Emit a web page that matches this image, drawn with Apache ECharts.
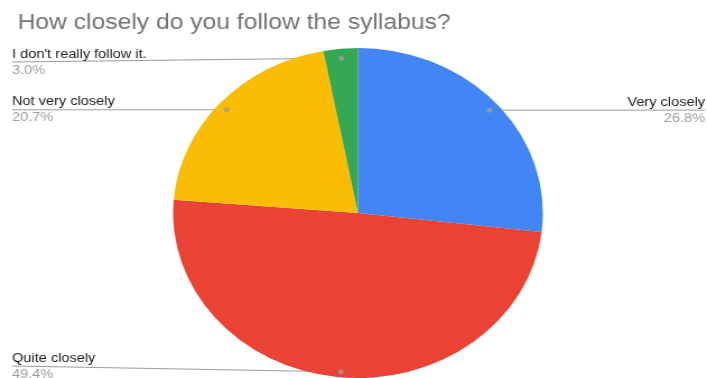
<!DOCTYPE html>
<html>
<head>
<meta charset="utf-8">
<script src="https://cdn.jsdelivr.net/npm/echarts@6/dist/echarts.min.js"></script>
<style>
  html, body { margin: 0; padding: 0; background: #fff; overflow: hidden; }
  #wrap { width: 707px; height: 378px; overflow: hidden; }
  /* the chart is laid out narrower and widened, giving the oval pie */
  #chart { width: 631px; height: 378px; transform: scaleX(1.1204); transform-origin: 0 0; }
</style>
</head>
<body>
<div id="wrap"><div id="chart"></div></div>
<script>
const titleText = 'How closely do you follow the syllabus?';
const categories = ['Very closely', 'Quite closely', 'Not very closely', "I don't really follow it."];
const shares = [26.8, 49.4, 20.7, 3.0];
const sliceColors = ['#4285F4', '#EA4335', '#FBBC04', '#34A853'];

const CX = 319.5, CY = 213, R = 165;
const DOT_FRAC = 0.955;
const DOT_SHIFT = 2;
const EDGE_L = 10.7, EDGE_R = 629.3;
const LABEL_TOP = 62, LABEL_BOTTOM = 366;
const total = shares.reduce((a, b) => a + b, 0);

// mid-angle position of each slice, in the same units as the shares
const mids = [];
let acc = 0;
shares.forEach(v => { mids.push(acc + v / 2); acc += v; });

const chart = echarts.init(document.getElementById('chart'), null, { renderer: 'canvas' });

chart.setOption({
  animation: false,
  backgroundColor: '#ffffff',
  title: {
    text: titleText,
    left: 10.7,
    top: 7,
    textStyle: { fontFamily: 'Liberation Sans, Arial, sans-serif', fontSize: 22, fontWeight: 'normal', color: '#757575' }
  },
  polar: { center: [CX, CY], radius: R },
  angleAxis: { type: 'value', min: 0, max: total, startAngle: 90, clockwise: true, show: false },
  radiusAxis: { type: 'value', min: 0, max: 1, show: false },
  series: [
    {
      type: 'pie',
      center: [CX, CY],
      radius: R,
      startAngle: 90,
      clockwise: true,
      data: categories.map((name, i) => ({ name, value: shares[i], itemStyle: { color: sliceColors[i] } })),
      itemStyle: { borderWidth: 0 },
      label: {
        show: true,
        position: 'outside',
        formatter: p => '{n|' + p.name + '}\n{p|' + p.value.toFixed(1) + '%}',
        rich: {
          n: { fontFamily: 'Liberation Sans, Arial, sans-serif', fontSize: 13, color: '#222222', lineHeight: 16 },
          p: { fontFamily: 'Liberation Sans, Arial, sans-serif', fontSize: 13, color: '#9e9e9e', lineHeight: 16 }
        }
      },
      labelLine: { show: true, length: 10, length2: 10, lineStyle: { color: '#9e9e9e', width: 1 } },
      labelLayout: function (params) {
        const pts = params.labelLinePoints;
        if (!pts) return {};
        const p0 = pts[0];
        const dx = CX + (p0[0] - CX) * DOT_FRAC;
        const dy = CY + (p0[1] - CY) * DOT_FRAC + DOT_SHIFT;
        const left = dx < CX;
        const ly = Math.min(LABEL_BOTTOM, Math.max(LABEL_TOP, dy));
        const ex = left ? EDGE_L : EDGE_R;
        return {
          x: ex,
          y: ly,
          align: left ? 'left' : 'right',
          verticalAlign: 'middle',
          labelLinePoints: [[dx, dy], [(dx + ex) / 2, (dy + ly) / 2], [ex, ly]]
        };
      },
      emphasis: { disabled: true },
      silent: true
    },
    {
      type: 'scatter',
      coordinateSystem: 'polar',
      data: mids.map(m => [DOT_FRAC, m]),
      symbol: 'circle',
      symbolSize: 5,
      symbolOffset: [0, DOT_SHIFT],
      itemStyle: { color: '#9e9e9e' },
      z: 5,
      silent: true
    }
  ]
});
</script>
</body>
</html>
